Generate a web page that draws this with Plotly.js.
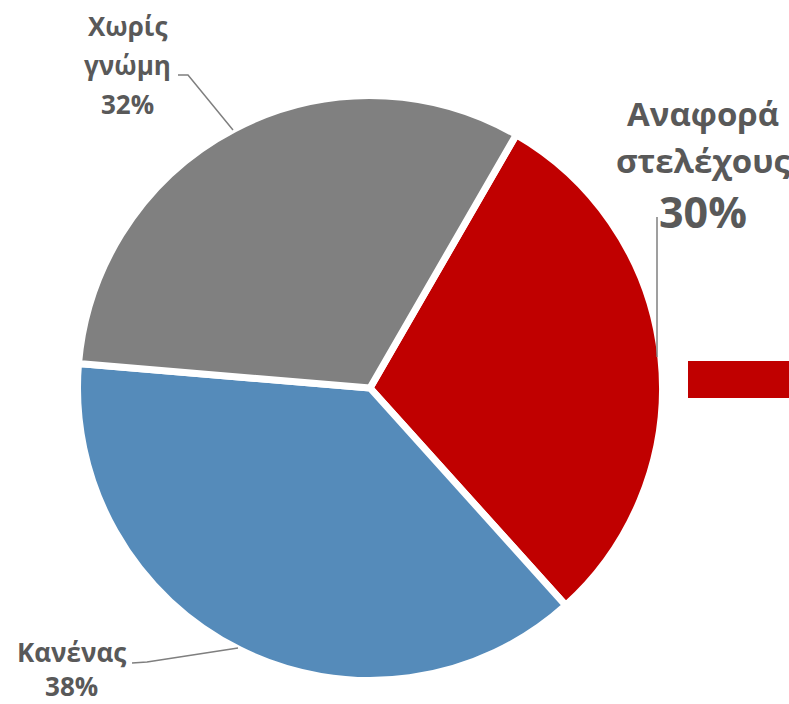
<!DOCTYPE html>
<html>
<head>
<meta charset="utf-8">
<script src="https://cdn.plot.ly/plotly-3.0.1.min.js"></script>
<style>html,body{margin:0;padding:0;background:#fff;}#chart{width:789px;height:704px;}</style>
</head>
<body>
<div id="chart"></div>
<script>
const categories = ['Αναφορά στελέχους', 'Κανένας', 'Χωρίς γνώμη'];
const values = [30, 38, 32];
const colors = ['#C00000', '#558BBA', '#808080'];

const W = 789, H = 704;
const px = (x) => x / W;
const py = (y) => 1 - y / H;

// pie geometry (pixels)
const cx = 370, cy = 388, R = 292.5;

const trace = {
  type: 'pie',
  labels: categories,
  values: values,
  sort: false,
  direction: 'clockwise',
  rotation: 30,
  marker: {colors: colors, line: {color: '#ffffff', width: 7}},
  textinfo: 'none',
  hoverinfo: 'label+percent',
  showlegend: false,
  domain: {x: [px(cx - R), px(cx + R)], y: [py(cy + R), py(cy - R)]}
};

const txtColor = '#595959';
const fontFam = '"Open Sans", "Noto Sans", sans-serif';

// label lines per category: name words, then percent
function labelLines(i) {
  return categories[i].split(' ').concat([values[i] + '%']);
}
// placement of each label: either separate lines (ys) or one block (y)
const labelLayout = [
  {x: 703, ys: [113, 160, 211], sizes: [33, 33, 43]},
  {x: 71, y: 669, size: 26},
  {x: 128, ys: [26, 65, 104], sizes: [26, 26, 26]}
];

const annotations = [];
labelLayout.forEach((lay, i) => {
  const lines = labelLines(i);
  const base = {xref: 'paper', yref: 'paper', xanchor: 'center', yanchor: 'middle', showarrow: false, borderpad: 0, align: 'center'};
  if (lay.ys) {
    lines.forEach((t, k) => {
      annotations.push(Object.assign({}, base, {
        x: px(lay.x), y: py(lay.ys[k]), text: t,
        font: {size: lay.sizes[k], color: txtColor, family: fontFam, weight: 'bold'}
      }));
    });
  } else {
    annotations.push(Object.assign({}, base, {
      x: px(lay.x), y: py(lay.y), text: lines.join('<br>'),
      font: {size: lay.size, color: txtColor, family: fontFam, weight: 'bold'}
    }));
  }
});

function pathFrom(points) {
  return 'M ' + points.map(p => px(p[0]) + ',' + py(p[1])).join(' L ');
}
const lineStyle = {color: '#7F7F7F', width: 1.5};
const shapes = [
  {type: 'path', xref: 'paper', yref: 'paper', path: pathFrom([[657, 217], [657, 357]]), line: lineStyle},
  {type: 'path', xref: 'paper', yref: 'paper', path: pathFrom([[132, 663], [147, 662], [238, 648]]), line: lineStyle},
  {type: 'path', xref: 'paper', yref: 'paper', path: pathFrom([[178, 75], [188, 75], [233, 130]]), line: lineStyle},
  {type: 'rect', xref: 'paper', yref: 'paper', x0: px(688), x1: px(789), y0: py(398), y1: py(361), fillcolor: '#C00000', line: {width: 0}}
];

const layout = {
  width: W, height: H,
  margin: {l: 0, r: 0, t: 0, b: 0},
  paper_bgcolor: '#ffffff',
  plot_bgcolor: '#ffffff',
  showlegend: false,
  annotations: annotations,
  shapes: shapes
};

Plotly.newPlot('chart', [trace], layout, {displayModeBar: false, staticPlot: true});
</script>
</body>
</html>
